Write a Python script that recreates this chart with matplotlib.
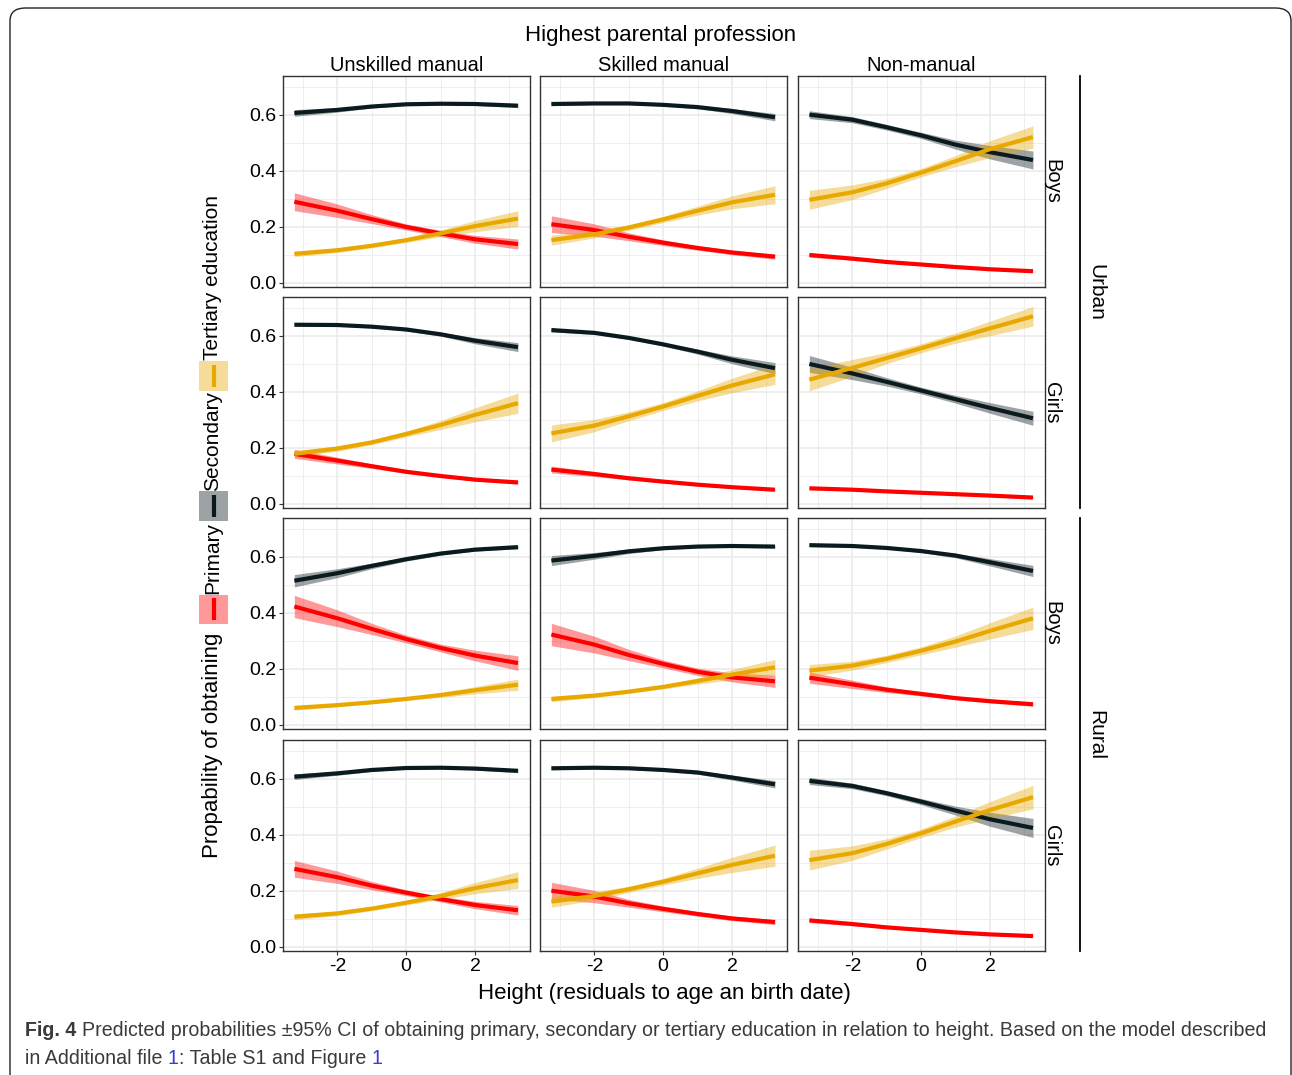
import matplotlib
matplotlib.use('Agg')
import matplotlib.pyplot as plt
import numpy as np
from matplotlib.patches import Rectangle, FancyBboxPatch
from matplotlib.lines import Line2D

plt.rcParams['font.family'] = ['Liberation Sans', 'DejaVu Sans']

# ---- data ----
x_pts = [-3.25, -2, -1, 0, 1, 2, 3.25]
professions = ['Unskilled manual', 'Skilled manual', 'Non-manual']
row_labels = ['Boys', 'Girls', 'Boys', 'Girls']
area_labels = ['Urban', 'Rural']
series_names = ['Primary', 'Secondary', 'Tertiary education']

# each list: [unskilled, skilled, non-manual]
urban_boys_primary = [[0.290, 0.258, 0.228, 0.200, 0.177, 0.156, 0.139],
                      [0.210, 0.189, 0.165, 0.144, 0.125, 0.109, 0.094],
                      [0.100, 0.087, 0.075, 0.066, 0.057, 0.049, 0.042]]
urban_boys_secondary = [[0.607, 0.618, 0.630, 0.638, 0.640, 0.639, 0.633],
                        [0.639, 0.641, 0.641, 0.636, 0.628, 0.614, 0.592],
                        [0.601, 0.583, 0.556, 0.527, 0.494, 0.467, 0.439]]
urban_boys_tertiary = [[0.104, 0.117, 0.133, 0.153, 0.177, 0.203, 0.230],
                       [0.153, 0.174, 0.198, 0.227, 0.258, 0.288, 0.315],
                       [0.297, 0.324, 0.356, 0.394, 0.435, 0.478, 0.521]]

urban_girls_primary = [[0.179, 0.155, 0.135, 0.115, 0.100, 0.087, 0.077],
                       [0.123, 0.107, 0.092, 0.080, 0.069, 0.060, 0.051],
                       [0.056, 0.051, 0.045, 0.040, 0.035, 0.030, 0.023]]
urban_girls_secondary = [[0.640, 0.639, 0.633, 0.623, 0.606, 0.583, 0.560],
                         [0.621, 0.611, 0.593, 0.570, 0.544, 0.515, 0.485],
                         [0.500, 0.466, 0.436, 0.405, 0.374, 0.343, 0.306]]
urban_girls_tertiary = [[0.179, 0.198, 0.220, 0.250, 0.282, 0.318, 0.360],
                        [0.252, 0.280, 0.313, 0.348, 0.386, 0.423, 0.463],
                        [0.444, 0.486, 0.521, 0.556, 0.592, 0.627, 0.670]]

rural_boys_primary = [[0.423, 0.381, 0.343, 0.307, 0.275, 0.248, 0.221],
                      [0.323, 0.287, 0.250, 0.218, 0.190, 0.170, 0.156],
                      [0.169, 0.145, 0.126, 0.111, 0.096, 0.085, 0.074]]
rural_boys_secondary = [[0.515, 0.542, 0.568, 0.592, 0.612, 0.626, 0.635],
                        [0.587, 0.604, 0.620, 0.631, 0.637, 0.639, 0.637],
                        [0.642, 0.639, 0.632, 0.621, 0.605, 0.581, 0.550]]
rural_boys_tertiary = [[0.061, 0.071, 0.081, 0.093, 0.107, 0.124, 0.144],
                       [0.093, 0.105, 0.119, 0.136, 0.157, 0.180, 0.206],
                       [0.194, 0.212, 0.236, 0.265, 0.298, 0.336, 0.381]]

rural_girls_primary = [[0.279, 0.249, 0.219, 0.194, 0.171, 0.150, 0.131],
                       [0.201, 0.180, 0.156, 0.136, 0.118, 0.102, 0.089],
                       [0.095, 0.082, 0.070, 0.061, 0.052, 0.045, 0.039]]
rural_girls_secondary = [[0.608, 0.620, 0.632, 0.639, 0.640, 0.637, 0.629],
                         [0.638, 0.640, 0.638, 0.632, 0.623, 0.605, 0.581],
                         [0.593, 0.575, 0.549, 0.519, 0.487, 0.456, 0.425]]
rural_girls_tertiary = [[0.108, 0.120, 0.137, 0.158, 0.182, 0.210, 0.239],
                        [0.162, 0.182, 0.206, 0.233, 0.263, 0.293, 0.326],
                        [0.310, 0.335, 0.368, 0.406, 0.448, 0.489, 0.535]]

# 95% CI half widths, same layout
urban_boys_primary_ci = [[0.032, 0.024, 0.016, 0.011, 0.011, 0.014, 0.018],
                         [0.030, 0.022, 0.014, 0.010, 0.008, 0.008, 0.009],
                         [0.008, 0.006, 0.004, 0.003, 0.003, 0.003, 0.004]]
urban_boys_secondary_ci = [[0.012, 0.008, 0.005, 0.004, 0.004, 0.005, 0.007],
                           [0.006, 0.004, 0.004, 0.004, 0.006, 0.009, 0.013],
                           [0.014, 0.011, 0.010, 0.011, 0.016, 0.024, 0.032]]
urban_boys_tertiary_ci = [[0.010, 0.008, 0.007, 0.008, 0.012, 0.020, 0.028],
                          [0.018, 0.013, 0.010, 0.011, 0.016, 0.023, 0.032],
                          [0.034, 0.026, 0.018, 0.015, 0.020, 0.030, 0.040]]

urban_girls_primary_ci = [[0.016, 0.012, 0.008, 0.006, 0.005, 0.005, 0.006],
                          [0.012, 0.009, 0.006, 0.005, 0.004, 0.004, 0.005],
                          [0.005, 0.004, 0.003, 0.003, 0.003, 0.003, 0.004]]
urban_girls_secondary_ci = [[0.005, 0.004, 0.004, 0.005, 0.007, 0.011, 0.016],
                            [0.007, 0.005, 0.005, 0.006, 0.009, 0.014, 0.020],
                            [0.030, 0.022, 0.015, 0.012, 0.014, 0.019, 0.025]]
urban_girls_tertiary_ci = [[0.012, 0.009, 0.008, 0.010, 0.016, 0.025, 0.036],
                           [0.030, 0.022, 0.016, 0.014, 0.018, 0.026, 0.036],
                           [0.040, 0.030, 0.020, 0.016, 0.018, 0.026, 0.035]]

rural_boys_primary_ci = [[0.040, 0.030, 0.020, 0.014, 0.014, 0.019, 0.026],
                         [0.040, 0.030, 0.020, 0.014, 0.013, 0.016, 0.022],
                         [0.020, 0.015, 0.010, 0.007, 0.006, 0.006, 0.007]]
rural_boys_secondary_ci = [[0.022, 0.016, 0.010, 0.007, 0.005, 0.005, 0.006],
                           [0.018, 0.012, 0.008, 0.005, 0.004, 0.004, 0.005],
                           [0.005, 0.004, 0.004, 0.005, 0.008, 0.013, 0.020]]
rural_boys_tertiary_ci = [[0.008, 0.006, 0.005, 0.005, 0.008, 0.013, 0.020],
                          [0.010, 0.007, 0.006, 0.007, 0.011, 0.018, 0.028],
                          [0.022, 0.016, 0.013, 0.014, 0.020, 0.029, 0.040]]

rural_girls_primary_ci = [[0.030, 0.022, 0.015, 0.010, 0.010, 0.013, 0.017],
                          [0.030, 0.022, 0.014, 0.010, 0.008, 0.008, 0.009],
                          [0.008, 0.006, 0.004, 0.003, 0.003, 0.003, 0.004]]
rural_girls_secondary_ci = [[0.010, 0.007, 0.005, 0.004, 0.004, 0.005, 0.007],
                            [0.005, 0.004, 0.004, 0.004, 0.006, 0.009, 0.013],
                            [0.013, 0.010, 0.009, 0.011, 0.016, 0.025, 0.034]]
rural_girls_tertiary_ci = [[0.010, 0.008, 0.007, 0.008, 0.012, 0.020, 0.030],
                           [0.020, 0.015, 0.011, 0.012, 0.018, 0.027, 0.038],
                           [0.035, 0.026, 0.018, 0.015, 0.020, 0.030, 0.042]]

# ---- styling ----
W, H = 1292, 1075
colors = ['#FF0000', '#0B1A1F', '#E8A800']
ribbon_alpha = 0.4
grid_col = '#EBEBEB'
frame_col = '#333333'

rows_data = [
    (urban_boys_primary, urban_boys_secondary, urban_boys_tertiary),
    (urban_girls_primary, urban_girls_secondary, urban_girls_tertiary),
    (rural_boys_primary, rural_boys_secondary, rural_boys_tertiary),
    (rural_girls_primary, rural_girls_secondary, rural_girls_tertiary),
]
rows_ci = [
    (urban_boys_primary_ci, urban_boys_secondary_ci, urban_boys_tertiary_ci),
    (urban_girls_primary_ci, urban_girls_secondary_ci, urban_girls_tertiary_ci),
    (rural_boys_primary_ci, rural_boys_secondary_ci, rural_boys_tertiary_ci),
    (rural_girls_primary_ci, rural_girls_secondary_ci, rural_girls_tertiary_ci),
]

col_left = [283, 540, 798]
row_top = [76, 297, 518, 740]
pw, ph = 247, 211


def fx(px):
    return px / W


def fy(py):
    return 1 - py / H


fig = plt.figure(figsize=(W / 100, H / 100), dpi=100)

# outer rounded frame of the figure box
frame = FancyBboxPatch((fx(10), fy(1090)), fx(1281), (1082) / H,
                       boxstyle='round,pad=0,rounding_size=0.012',
                       transform=fig.transFigure, facecolor='none',
                       edgecolor='#222222', linewidth=1.0)
fig.add_artist(frame)

xs = np.array(x_pts)
for r in range(4):
    for c in range(3):
        ax = fig.add_axes([fx(col_left[c]), fy(row_top[r] + ph), pw / W, ph / H])
        ax.set_xlim(-3.58, 3.6)
        ax.set_ylim(-0.0143, 0.739)
        ax.set_xticks([-2, 0, 2])
        ax.set_xticks([-3, -1, 1, 3], minor=True)
        ax.set_yticks([0.0, 0.2, 0.4, 0.6])
        ax.set_yticks([0.1, 0.3, 0.5, 0.7], minor=True)
        ax.grid(which='major', color=grid_col, linewidth=1.2, zorder=0)
        ax.grid(which='minor', color=grid_col, linewidth=0.6, zorder=0)
        ax.set_axisbelow(True)
        for sp in ax.spines.values():
            sp.set_color(frame_col)
            sp.set_linewidth(1.0)
        ax.tick_params(which='minor', length=0)
        ax.tick_params(which='major', length=3, width=0.8, color=frame_col,
                       labelsize=14, labelcolor='black', pad=2)
        if c == 0:
            ax.set_yticklabels(['0.0', '0.2', '0.4', '0.6'])
        else:
            ax.tick_params(axis='y', length=0, labelleft=False)
        if r == 3:
            ax.set_xticklabels(['-2', '0', '2'])
        else:
            ax.tick_params(axis='x', length=0, labelbottom=False)

        for s in range(3):
            y = np.array(rows_data[r][s][c])
            ci = np.array(rows_ci[r][s][c])
            ax.fill_between(xs, y - ci, y + ci, color=colors[s], alpha=ribbon_alpha,
                            linewidth=0, zorder=2)
        for s in range(3):
            y = np.array(rows_data[r][s][c])
            ax.plot(xs, y, color=colors[s], linewidth=3.0, solid_capstyle='butt',
                    solid_joinstyle='round', zorder=3)

        if r == 0:
            ax.text(0.5, 1 + 10 / ph, professions[c], transform=ax.transAxes, ha='center',
                    va='center', fontsize=14.5)
        if c == 2:
            ax.text(1 - 3 / pw, 0.5, row_labels[r], transform=ax.transAxes, ha='left',
                    va='center', rotation=-90, fontsize=14.5)

# top title over the columns
fig.text(fx(661), fy(35), 'Highest parental profession', ha='center', va='center', fontsize=16)

# outer row grouping (Urban / Rural)
for i, lab in enumerate(area_labels):
    y0 = row_top[2 * i]
    y1 = row_top[2 * i + 1] + ph
    fig.add_artist(Line2D([fx(1080), fx(1080)], [fy(y0), fy(y1)], transform=fig.transFigure,
                          color='black', linewidth=1.3))
    fig.text(fx(1096), fy((y0 + y1) / 2), lab, ha='center', va='center',
             rotation=-90, fontsize=15)

# x axis title
fig.text(fx(664), fy(994), 'Height (residuals to age an birth date)', ha='center',
         va='center', fontsize=16)

# rotated y title with inline legend
fig.text(fx(213), fy(745), 'Propability of obtaining', ha='center', va='center',
         rotation=90, fontsize=16)
key_centers = [609, 506, 376]
text_centers = [558, 441, 278]
for s in range(3):
    yc = key_centers[s]
    fig.add_artist(Rectangle((fx(199), fy(yc + 14.5)), 29 / W, 29 / H,
                             transform=fig.transFigure, facecolor=colors[s],
                             alpha=ribbon_alpha, edgecolor='none'))
    fig.add_artist(Line2D([fx(213.5), fx(213.5)], [fy(yc + 11), fy(yc - 11)],
                          transform=fig.transFigure, color=colors[s], linewidth=3.0,
                          solid_capstyle='butt'))
    fig.text(fx(213), fy(text_centers[s]), series_names[s], ha='center', va='center',
             rotation=90, fontsize=15)

# caption
renderer = fig.canvas.get_renderer()
blue = '#3b3bd6'
grey = '#3a3a3a'
cap_line1 = [('Fig. 4 ', {'weight': 'bold', 'color': grey}),
             ('Predicted probabilities \u00b195% CI of obtaining primary, secondary or tertiary '
              'education in relation to height. Based on the model described', {'color': grey})]
cap_line2 = [('in Additional file ', {'color': grey}),
             ('1', {'color': blue}),
             (': Table S1 and Figure ', {'color': grey}),
             ('1', {'color': blue})]


def put_line(x_px, y_px, pieces, size):
    x = fx(x_px)
    arts = []
    for txt, kw in pieces:
        t = fig.text(x, fy(y_px), txt, ha='left', va='center', fontsize=size, **kw)
        bb = t.get_window_extent(renderer)
        x = bb.x1 / W
        arts.append(t)
    return arts, x * W


# fit the first caption line to the width it has in the reference
cap_size = 14.5
arts, end_px = put_line(25, 1031, cap_line1, cap_size)
cap_size = cap_size * (1262 - 25) / (end_px - 25)
for a in arts:
    a.remove()
put_line(25, 1031, cap_line1, cap_size)
put_line(25, 1058, cap_line2, cap_size)

fig.savefig('out.png', dpi=100)
